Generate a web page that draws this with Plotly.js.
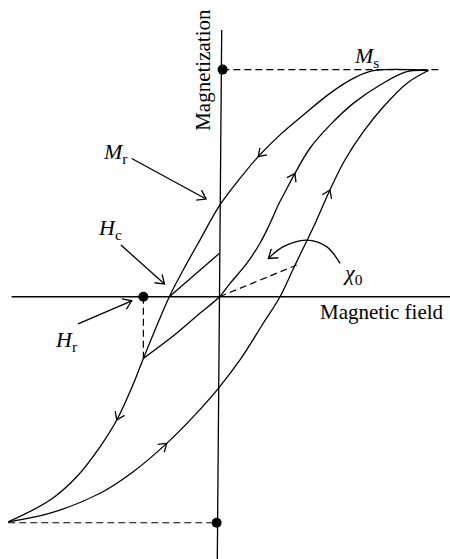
<!DOCTYPE html>
<html>
<head>
<meta charset="utf-8">
<script src="https://cdn.plot.ly/plotly-3.0.1.min.js"></script>
<style>
  html, body { margin: 0; padding: 0; background: #fff; }
  #plot { width: 450px; height: 559px; }
</style>
</head>
<body>
<div id="plot"></div>
<script>
// hysteresis loop, H and M in units of Hmax / Ms
const descH = [0.949, 0.699, 0.608, 0.502, 0.381, 0.275, 0.176, 0.093, 0.002, -0.089, -0.165, -0.228, -0.346, -0.392, -0.467, -0.543, -0.649, -0.770, -0.960];
const descM = [0.998, 0.997, 0.963, 0.897, 0.802, 0.714, 0.618, 0.522, 0.405, 0.250, 0.118, 0, -0.272, -0.385, -0.544, -0.662, -0.794, -0.897, -0.993];
const ascH = [-0.960, -0.770, -0.543, -0.392, -0.240, -0.119, -0.005, 0.093, 0.199, 0.275, 0.335, 0.381, 0.426, 0.502, 0.570, 0.654, 0.745, 0.851, 0.949];
const ascM = [-0.993, -0.955, -0.867, -0.772, -0.647, -0.529, -0.404, -0.279, -0.117, 0, 0.122, 0.215, 0.305, 0.471, 0.603, 0.728, 0.838, 0.941, 0.998];
// recoil curve from Hr through the origin
const midH = [-0.346, -0.195, -0.089, 0, 0.048, 0.124, 0.184, 0.230, 0.267, 0.298, 0.343, 0.411, 0.502, 0.608, 0.730, 0.851, 0.949];
const midM = [-0.272, -0.161, -0.073, 0, 0.059, 0.147, 0.236, 0.324, 0.405, 0.462, 0.544, 0.655, 0.757, 0.853, 0.934, 0.993, 0.998];
// direction marks (indices into the curves)
const descArrows = [6, 14];
const ascArrows = [4, 13];
const midArrows = [10];

const Hr = -0.346, MrAtHr = -0.272;
const Ms = 1.002, MsNeg = -0.997;
const HcTangentH = [-0.228, -0.001], HcTangentM = [0, 0.191];
const chiH = [0, 0.351], chiM = [0, 0.140];
const chiArcH = [0.548, 0.487, 0.396, 0.290, 0.222];
const chiArcM = [0.147, 0.221, 0.250, 0.221, 0.169];

// pointers for labels: [tailH, tailM, headH, headM]
const ptrMr = [-0.399, 0.610, -0.061, 0.431];
const ptrHc = [-0.448, 0.228, -0.250, 0.056];
const ptrHr = [-0.643, -0.120, -0.399, -0.018];

const xr = [-0.9977, 1.0477], yr = [-1.157, 1.309];
const kx = 450 / (xr[1] - xr[0]), ky = 559 / (yr[1] - yr[0]);

const line = { color: "#000", width: 1.3 };
const dashed = { color: "#000", width: 1.2, dash: "7px,4px" };
const smooth = Object.assign({ shape: "spline", smoothing: 1 }, line);

// open V arrowhead at tip, pointing away from "from"
function chevron(tip, from, len, ang) {
  const a = Math.atan2((tip[1] - from[1]) * ky, (tip[0] - from[0]) * kx);
  const arm = (s) => [tip[0] + len * Math.cos(a + Math.PI + s) / kx, tip[1] + len * Math.sin(a + Math.PI + s) / ky];
  const p1 = arm(ang), p2 = arm(-ang);
  return { x: [p1[0], tip[0], p2[0]], y: [p1[1], tip[1], p2[1]], mode: "lines", line: line };
}

function curveMarks(hs, ms, idx) {
  return idx.map(i => chevron([hs[i], ms[i]], [hs[i - 1], ms[i - 1]], 9, 0.6));
}

const traces = [
  // axes
  { x: [0.010, -0.010], y: [1.177, -1.157], mode: "lines", line: line },
  { x: [-0.945, xr[1]], y: [0, 0], mode: "lines", line: line },
  // loop
  { x: descH, y: descM, mode: "lines", line: smooth },
  { x: ascH, y: ascM, mode: "lines", line: smooth },
  { x: midH, y: midM, mode: "lines", line: smooth },
  { x: HcTangentH, y: HcTangentM, mode: "lines", line: line },
  // dashed guides
  { x: [0.013, 0.998], y: [Ms, Ms], mode: "lines", line: dashed },
  { x: [-0.960, -0.013], y: [MsNeg, MsNeg], mode: "lines", line: dashed },
  { x: [Hr, Hr], y: [0, MrAtHr], mode: "lines", line: dashed },
  { x: chiH, y: chiM, mode: "lines", line: dashed },
  // chi0 curved pointer
  { x: chiArcH, y: chiArcM, mode: "lines", line: Object.assign({ shape: "spline" }, line) },
  chevron([chiArcH[4], chiArcM[4]], [chiArcH[3], chiArcM[3]], 10, 0.6),
  // dots
  { x: [0.014, -0.013, Hr], y: [Ms, MsNeg, 0], mode: "markers", marker: { color: "#000", size: 10 } }
];

[ptrMr, ptrHc, ptrHr].forEach(p => {
  traces.push({ x: [p[0], p[2]], y: [p[1], p[3]], mode: "lines", line: line });
  traces.push(chevron([p[2], p[3]], [p[0], p[1]], 10, 0.6));
});
traces.push(...curveMarks(descH, descM, descArrows));
traces.push(...curveMarks(ascH, ascM, ascArrows));
traces.push(...curveMarks(midH, midM, midArrows));
traces.forEach(t => { t.hoverinfo = "skip"; });

const font = { family: "Liberation Serif, serif", size: 22, color: "#000" };
const titleFont = Object.assign({}, font, { size: 21 });
const label = (x, y, text, extra) => Object.assign({ x: x, y: y, xref: "x", yref: "y", text: text, showarrow: false, font: font }, extra || {});

const layout = {
  width: 450,
  height: 559,
  margin: { l: 0, r: 0, t: 0, b: 0 },
  showlegend: false,
  paper_bgcolor: "#fff",
  plot_bgcolor: "#fff",
  xaxis: { range: xr, visible: false, fixedrange: true },
  yaxis: { range: yr, visible: false, fixedrange: true },
  annotations: [
    label(0.668, 1.058, "<i>M</i><sub>s</sub>"),
    label(-0.476, 0.636, "<i>M</i><sub>r</sub>"),
    label(-0.500, 0.297, "<i>H</i><sub>c</sub>"),
    label(-0.700, -0.194, "<i>H</i><sub>r</sub>"),
    label(0.605, 0.102, "<i>χ</i><sub>0</sub>"),
    label(0.739, -0.067, "Magnetic field", { font: titleFont }),
    label(-0.073, 1.003, "Magnetization", { textangle: -90, font: titleFont })
  ]
};

Plotly.newPlot("plot", traces, layout, { staticPlot: true, displayModeBar: false });
</script>
</body>
</html>
